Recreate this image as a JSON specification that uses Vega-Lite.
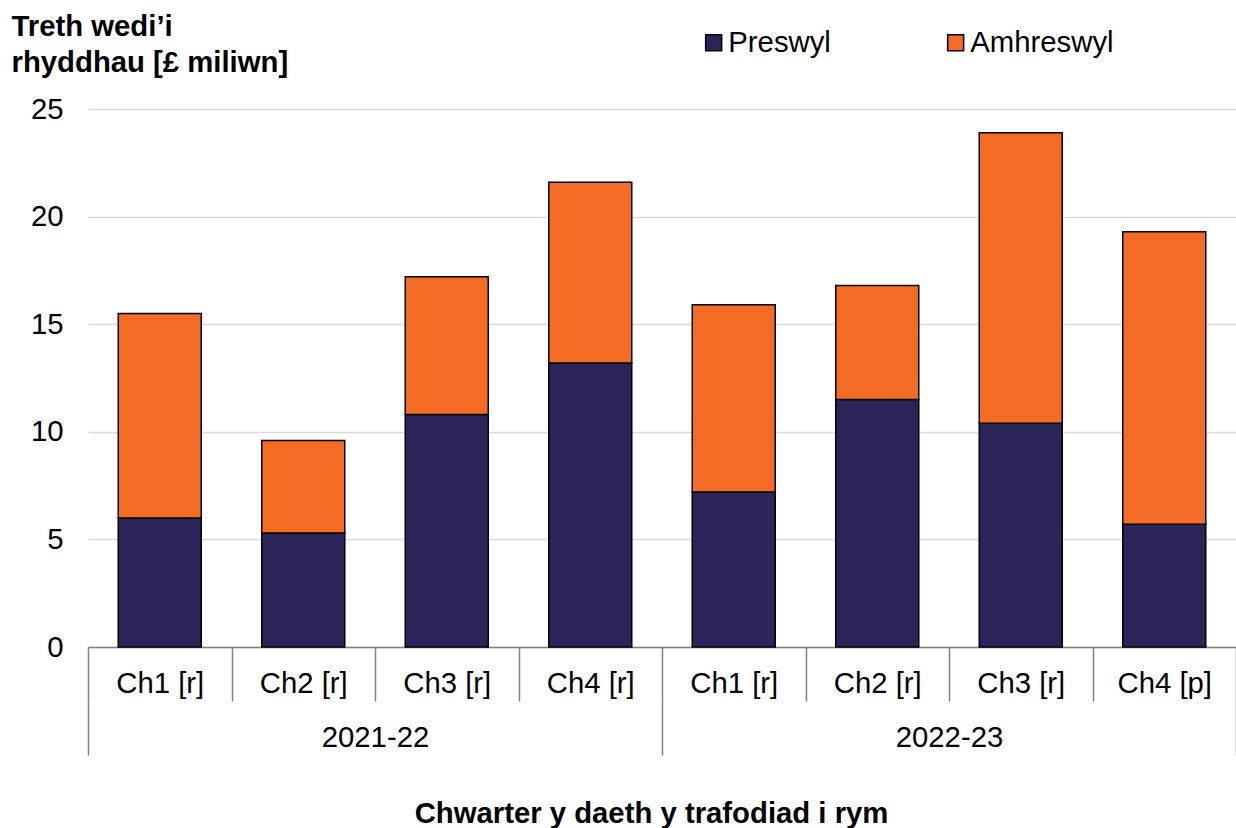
{
  "$schema": "https://vega.github.io/schema/vega-lite/v6.json",
  "width": 1148,
  "height": 538,
  "autosize": "none",
  "padding": {"left": 88, "top": 109, "right": 0, "bottom": 181},
  "background": "white",
  "config": {"font": "Liberation Sans", "view": {"stroke": null}},
  "data": {
    "values": [
      {"year": "2021-22", "cat": "2021-22 Ch1 [r]", "type": "Preswyl", "value": 6.0},
      {"year": "2021-22", "cat": "2021-22 Ch1 [r]", "type": "Amhreswyl", "value": 9.5},
      {"year": "2021-22", "cat": "2021-22 Ch2 [r]", "type": "Preswyl", "value": 5.3},
      {"year": "2021-22", "cat": "2021-22 Ch2 [r]", "type": "Amhreswyl", "value": 4.3},
      {"year": "2021-22", "cat": "2021-22 Ch3 [r]", "type": "Preswyl", "value": 10.8},
      {"year": "2021-22", "cat": "2021-22 Ch3 [r]", "type": "Amhreswyl", "value": 6.4},
      {"year": "2021-22", "cat": "2021-22 Ch4 [r]", "type": "Preswyl", "value": 13.2},
      {"year": "2021-22", "cat": "2021-22 Ch4 [r]", "type": "Amhreswyl", "value": 8.4},
      {"year": "2022-23", "cat": "2022-23 Ch1 [r]", "type": "Preswyl", "value": 7.2},
      {"year": "2022-23", "cat": "2022-23 Ch1 [r]", "type": "Amhreswyl", "value": 8.7},
      {"year": "2022-23", "cat": "2022-23 Ch2 [r]", "type": "Preswyl", "value": 11.5},
      {"year": "2022-23", "cat": "2022-23 Ch2 [r]", "type": "Amhreswyl", "value": 5.3},
      {"year": "2022-23", "cat": "2022-23 Ch3 [r]", "type": "Preswyl", "value": 10.4},
      {"year": "2022-23", "cat": "2022-23 Ch3 [r]", "type": "Amhreswyl", "value": 13.5},
      {"year": "2022-23", "cat": "2022-23 Ch4 [p]", "type": "Preswyl", "value": 5.7},
      {"year": "2022-23", "cat": "2022-23 Ch4 [p]", "type": "Amhreswyl", "value": 13.6}
    ]
  },
  "layer": [
    {
      "mark": {"type": "bar", "size": 83, "stroke": "black", "strokeWidth": 1.5},
      "encoding": {
        "x": {
          "field": "cat",
          "type": "nominal",
          "sort": null,
          "scale": {"paddingInner": 0, "paddingOuter": 0},
          "axis": {
            "orient": "bottom",
            "title": "Chwarter y daeth y trafodiad i rym",
            "titleFontSize": 29.3,
            "titleFontWeight": "bold",
            "titleColor": "black",
            "titleBaseline": "alphabetic",
            "titleY": 175,
            "titleX": 563,
            "labelExpr": "isValid(datum.value) ? slice(datum.value + '', 8) : ''",
            "labelAngle": 0,
            "labelFontSize": 29.3,
            "labelColor": "black",
            "labelBaseline": "alphabetic",
            "labelPadding": -9,
            "labelOverlap": false,
            "labelFlush": false,
            "tickBand": "extent",
            "tickSize": 54,
            "tickColor": "#808080",
            "tickWidth": 1.5,
            "domainColor": "#808080",
            "domainWidth": 1.5,
            "grid": false
          }
        },
        "y": {
          "field": "value",
          "type": "quantitative",
          "stack": "zero",
          "scale": {"domain": [0, 25], "nice": false},
          "axis": {
            "title": ["Treth wedi’i", "rhyddhau [£ miliwn]"],
            "titleAngle": 0,
            "titleAlign": "left",
            "titleBaseline": "alphabetic",
            "titleX": -77,
            "titleY": -74,
            "titleFontSize": 29.3,
            "titleFontWeight": "bold",
            "titleColor": "black",
            "titleLineHeight": 36,
            "values": [0, 5, 10, 15, 20, 25],
            "labelFontSize": 29.3,
            "labelColor": "black",
            "labelPadding": 25,
            "ticks": false,
            "domain": false,
            "gridColor": "#d9d9d9",
            "gridWidth": 1.5
          }
        },
        "order": {"field": "type", "sort": "descending"},
        "color": {
          "field": "type",
          "type": "nominal",
          "scale": {"domain": ["Preswyl", "Amhreswyl"], "range": ["#2A2459", "#F36B24"]},
          "legend": {
            "orient": "none",
            "legendX": 611,
            "legendY": -81,
            "direction": "horizontal",
            "title": null,
            "padding": 0,
            "symbolType": "square",
            "symbolSize": 256,
            "symbolStrokeColor": "black",
            "symbolStrokeWidth": 1.5,
            "labelFontSize": 29.3,
            "labelColor": "black",
            "labelOffset": 0,
            "columnPadding": 110
          }
        }
      }
    },
    {
      "mark": {"type": "bar", "opacity": 0},
      "encoding": {
        "x": {
          "field": "year",
          "type": "nominal",
          "sort": null,
          "scale": {"type": "band", "paddingInner": 0, "paddingOuter": 0},
          "axis": {
            "orient": "bottom",
            "title": null,
            "offset": 54,
            "domain": false,
            "labelAngle": 0,
            "labelFontSize": 29.3,
            "labelColor": "black",
            "labelBaseline": "alphabetic",
            "labelPadding": -9,
            "labelOverlap": false,
            "tickBand": "extent",
            "tickSize": 54,
            "tickColor": "#808080",
            "tickWidth": 1.5,
            "grid": false
          }
        }
      }
    }
  ],
  "resolve": {"scale": {"x": "independent"}, "axis": {"x": "independent"}}
}
